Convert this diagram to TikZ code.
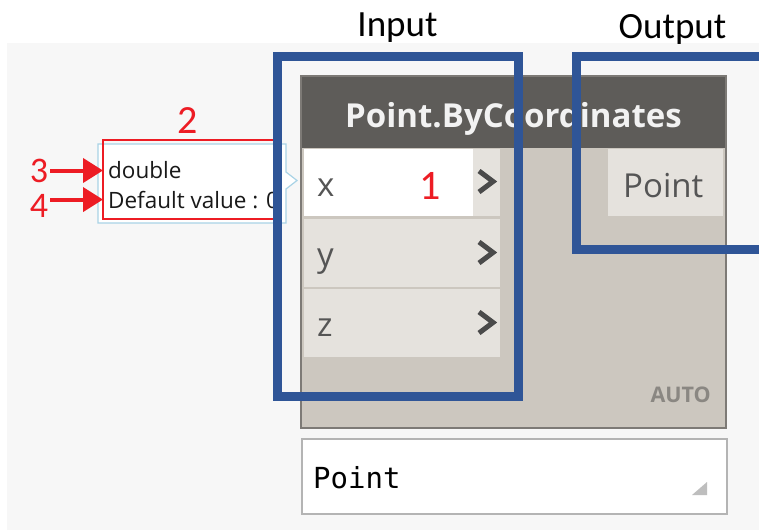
\documentclass[tikz,border=0pt]{standalone}
\usepackage{fontspec}
\setmainfont{Open Sans}
\newfontfamily\calib{Carlito}
\newfontfamily\monofont{DejaVu Sans Mono}
\usetikzlibrary{arrows.meta}

\definecolor{canvas}{HTML}{F7F7F7}
\definecolor{hdr}{HTML}{5E5C59}
\definecolor{nodebody}{HTML}{CCC7BF}
\definecolor{nodeedge}{HTML}{7D7A76}
\definecolor{portbg}{HTML}{E5E2DD}
\definecolor{frame}{HTML}{2F5597}
\definecolor{markred}{RGB}{237,28,36}
\definecolor{tipblue}{HTML}{A9D3E6}
\definecolor{ink}{HTML}{555555}
\definecolor{chevcol}{HTML}{4A4A4A}
\definecolor{autocol}{HTML}{8A8782}
\definecolor{previewedge}{HTML}{B4B4B4}
\definecolor{grip}{HTML}{BEBEBE}

\tikzset{
  heading/.style={font=\calib\fontsize{37}{40}\selectfont, text=black, inner sep=0pt, anchor=base},
  num/.style={font=\calib\fontsize{36}{38}\selectfont, text=markred, inner sep=0pt},
  portlabel/.style={font=\fontsize{33}{36}\selectfont, text=ink, inner sep=0pt, anchor=base west},
  tiptext/.style={font=\fontsize{22.5}{24}\selectfont, text=black!90, inner sep=0pt, anchor=base west},
  frm/.style={draw=frame, line width=9pt},
  callout/.style={draw=markred, line width=4pt, shorten <=2pt, shorten >=5pt, -{Triangle[length=20pt,width=24pt]}},
  chev/.style={draw=chevcol, line width=5pt, miter limit=4},
}

\begin{document}
\begin{tikzpicture}[x=1pt,y=-1pt]
\useasboundingbox (0,0) rectangle (759,530);
% canvas
\fill[white] (0,0) rectangle (759,530);
\fill[canvas] (7,43) rectangle (759,530);

% headings
\node[heading] (inlbl) at (397.5,36) {Input};
\node[heading] (outlbl) at (672.5,38) {Output};

% tooltip with its pointer
\draw[draw=tipblue, line width=1.2pt, fill=white]
  (98,144) -- (286,144) -- (286,172) -- (297,180.5) -- (286,189) -- (286,223) -- (98,223) -- cycle;
\node[tiptext] (tdbl) at (108,178) {double};
\node[tiptext] (tdef) at (108,208) {Default value : 0};
\draw[draw=markred, line width=2.2pt] (103,140) rectangle (281,219);

% node: header and body
\fill[fill=hdr] (301,76) rectangle (726,148);
\fill[fill=nodebody] (301,148) rectangle (726,428);
\draw[draw=nodeedge, line width=2pt] (301,76) rectangle (726,428);
\node[font=\bfseries\fontsize{33}{36}\selectfont, text=white!95!black, inner sep=0pt, anchor=base]
  (title) at (513.5,127) {Point.ByCoordinates};

% input ports
\fill[fill=portbg] (304,149) rectangle (500,216);
\fill[fill=white] (304,149) rectangle (473,216);
\fill[fill=portbg] (304,219) rectangle (500,287);
\fill[fill=portbg] (304,289) rectangle (500,357);
\node[portlabel] (px) at (317,196) {x};
\node[portlabel] (py) at (317,266.5) {y};
\node[portlabel] (pz) at (317,336.5) {z};
\draw[chev] (479,171) -- (493,181.5) -- (479,192);
\draw[chev] (479,242) -- (493,252.5) -- (479,263);
\draw[chev] (479,312) -- (493,322.5) -- (479,333);

% output port
\fill[fill=portbg] (608,149) rectangle (723,216);
\node[portlabel] (pout) at (623,197) {Point};

\node[font=\bfseries\fontsize{21.5}{24}\selectfont, text=autocol, inner sep=0pt, anchor=base east]
  (auto) at (711,402) {AUTO};

% preview bubble
\draw[draw=previewedge, line width=2pt, fill=white] (302,439) rectangle (727,514);
\node[font=\monofont\fontsize{29}{32}\selectfont, text=black, inner sep=0pt, anchor=base west]
  (preview) at (313,488) {Point};
\fill[fill=grip] (707,482) -- (707,495) -- (692,495) -- cycle;

% input and output frames
\draw[frm] (277.5,56.5) rectangle (518,396);
\draw[frm] (790,56.5) -| (576.5,249) -- (790,249);

% numbered callouts
\node[num, font=\calib\fontsize{42}{44}\selectfont] (n1) at (430,185.5) {1};
\node[num, font=\calib\fontsize{40}{44}\selectfont] (n2) at (188,120.5) {2};
\node[num] (n3) at (39,170.5) {3};
\node[num] (n4) at (39,206) {4};
\draw[callout] (n3.east) -- (n3.east -| tdbl.west);
\draw[callout] (n4.east |- tdef.west) -- (tdef.west);
\end{tikzpicture}
\end{document}
